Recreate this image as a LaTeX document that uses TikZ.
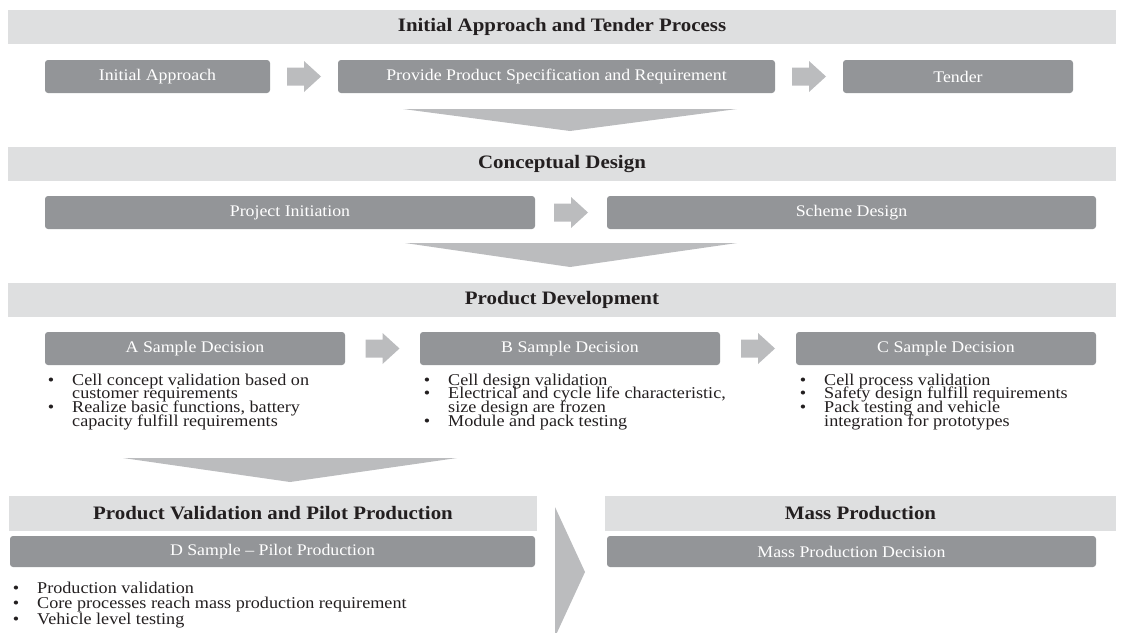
\documentclass[tikz,border=0pt]{standalone}
\usepackage{fontspec}
\setmainfont{Liberation Serif}[FakeStretch=1.1]
\usetikzlibrary{calc,positioning}
\definecolor{bandgray}{HTML}{DEDFE0}
\definecolor{stagegray}{HTML}{939598}
\definecolor{hopgray}{HTML}{BBBCBE}
\definecolor{inkblack}{HTML}{231F20}
\newcommand{\dotitem}{\llap{\textbullet\hspace{18pt}}}
\newcommand{\tightlines}{\lineskiplimit=-20pt\relax}

\begin{document}
\begin{tikzpicture}[
  x=1pt,y=-1pt,
  banner/.style={fill=bandgray,inner sep=0pt,minimum height=34pt,
    font=\fontsize{19}{21}\selectfont\bfseries,text=inkblack},
  stage/.style={fill=stagegray,rounded corners=3pt,inner sep=0pt,
    minimum height=33pt,font=\fontsize{16.2}{18}\selectfont,text=white},
  note/.style={anchor=north west,inner sep=0pt,align=left,text=inkblack,
    font={\fontsize{16.5}{13.7}\selectfont\tightlines}},
  funnel/.style={fill=hopgray},
  hop/.pic={\fill[hopgray] (-17,-9) -- (0,-9) -- (0,-15.5) -- (17,0)
    -- (0,15.5) -- (0,9) -- (-17,9) -- cycle;}
]
\useasboundingbox (0,0) rectangle (1124,632);

% tender phase
\node[banner,minimum width=1108pt] (tender) at (562,27) {Initial Approach and Tender Process};
\node[stage,minimum width=225pt] (ia) at (157.5,76.5) {Initial Approach};
\node[stage,minimum width=437pt] (ps) at (556.5,76.5) {Provide Product Specification and Requirement};
\node[stage,minimum width=230pt] (td) at (958,76.5) {Tender};
\pic at ($(ia.east)!.5!(ps.west)$) {hop};
\pic at ($(ps.east)!.5!(td.west)$) {hop};
\fill[funnel] (403,109) -- (737,109) -- (570,131) -- cycle;

% concept phase
\node[banner,minimum width=1108pt] (concept) at (562,164) {Conceptual Design};
\node[stage,minimum width=490pt] (pi) at (290,212.5) {Project Initiation};
\node[stage,minimum width=489pt] (sd) at (851.5,212.5) {Scheme Design};
\pic at ($(pi.east)!.5!(sd.west)$) {hop};
\fill[funnel] (405,243) -- (737,243) -- (570,267) -- cycle;

% development phase
\node[banner,minimum width=1108pt] (devel) at (562,300) {Product Development};
\foreach \s/\x in {A/195,B/570,C/946}{
  \node[stage,minimum width=300pt] (s\s) at (\x,348.5) {\s\ Sample Decision};
}
\pic at ($(sA.east)!.5!(sB.west)$) {hop};
\pic at ($(sB.east)!.5!(sC.west)$) {hop};
\node[note] (nA) at (72,373.5) {\dotitem Cell concept validation based on\\
  customer requirements\\ \dotitem Realize basic functions, battery\\
  capacity fulfill requirements};
\node[note] (nB) at (448,373.5) {\dotitem Cell design validation\\
  \dotitem Electrical and cycle life characteristic,\\ size design are frozen\\
  \dotitem Module and pack testing};
\node[note] (nC) at (824,373.5) {\dotitem Cell process validation\\
  \dotitem Safety design fulfill requirements\\ \dotitem Pack testing and vehicle\\
  integration for prototypes};
\fill[funnel] (123,458) -- (457,458) -- (290,482) -- cycle;

% validation and mass production
\node[banner,minimum width=528pt,minimum height=35pt] (pilot) at (273,513.5)
  {Product Validation and Pilot Production};
\node[stage,minimum width=525pt,minimum height=31pt] (sD) at (272.5,551.5)
  {D Sample -- Pilot Production};
\node[note,font={\fontsize{16.5}{15.7}\selectfont\tightlines}] (nD) at (37,581.5)
  {\dotitem Production validation\\
  \dotitem Core processes reach mass production requirement\\
  \dotitem Vehicle level testing};
\fill[funnel] (555,507) -- (585,572) -- (555,637) -- cycle;
\node[banner,minimum width=511pt,minimum height=35pt] (mass) at (860.5,513.5) {Mass Production};
\node[stage,minimum width=489pt,minimum height=31pt] (mpd) at (851.5,551.5) {Mass Production Decision};
\end{tikzpicture}
\end{document}
